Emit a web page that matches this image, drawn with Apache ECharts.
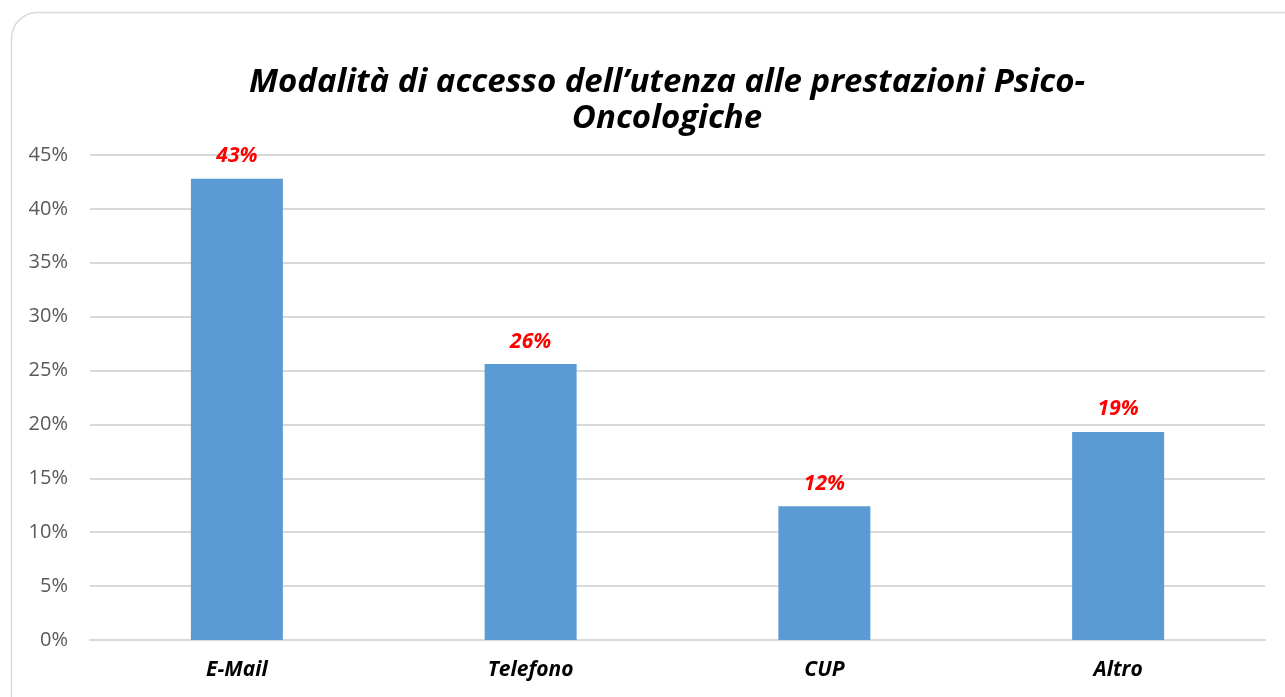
<!DOCTYPE html>
<html><head><meta charset="utf-8">
<script src="https://cdn.jsdelivr.net/npm/echarts@6/dist/echarts.min.js"></script>
<style>html,body{margin:0;padding:0;background:#fff}#c{width:1285px;height:697px}</style>
</head><body><div id="c"></div>
<script>
var categories = ['E-Mail', 'Telefono', 'CUP', 'Altro'];
var values = [42.8, 25.6, 12.4, 19.3];
var labels = ['43%', '26%', '12%', '19%'];
var titleText = 'Modalità di accesso dell\u2019utenza alle prestazioni Psico-\nOncologiche';
var FONT = '"Open Sans", "DejaVu Sans", sans-serif';
var chart = echarts.init(document.getElementById('c'), null, {renderer: 'canvas'});
chart.setOption({
  animation: false,
  graphic: [{
    type: 'rect', left: 9, top: 10, silent: true,
    shape: {width: 1300, height: 710, r: 26},
    style: {fill: 'none', stroke: '#d9d9d9', lineWidth: 1.5}
  }],
  title: {
    text: titleText, left: 662, top: 60, textAlign: 'center',
    textStyle: {fontFamily: FONT, fontSize: 33, fontWeight: 'bold', fontStyle: 'italic', color: '#000', lineHeight: 36}
  },
  grid: {left: 90, right: 20, top: 155, bottom: 57, containLabel: false},
  xAxis: {
    type: 'category', data: categories,
    axisLine: {show: true, lineStyle: {color: '#d9d9d9', width: 2}},
    axisTick: {show: false},
    axisLabel: {margin: 20, fontFamily: FONT, fontSize: 21, fontWeight: 'bold', fontStyle: 'italic', color: '#000'}
  },
  yAxis: {
    type: 'value', min: 0, max: 45, interval: 5,
    axisLine: {show: false}, axisTick: {show: false},
    splitLine: {lineStyle: {color: '#d9d9d9', width: 2}},
    axisLabel: {margin: 22, fontFamily: FONT, fontSize: 20, color: '#595959', formatter: '{value}%'}
  },
  series: [{
    type: 'bar', data: values, barWidth: 92,
    itemStyle: {color: '#5b9bd5'},
    label: {
      show: true, position: 'top', distance: 12,
      formatter: function (p) { return labels[p.dataIndex]; },
      fontFamily: FONT, fontSize: 21, fontWeight: 'bold', fontStyle: 'italic', color: '#ff0000'
    }
  }]
});
</script></body></html>
